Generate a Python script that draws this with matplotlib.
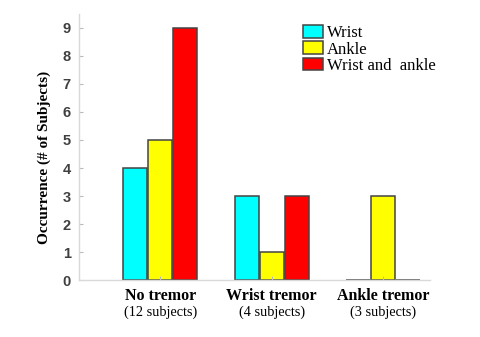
import numpy as np
import matplotlib
matplotlib.use("Agg")
import matplotlib.pyplot as plt

groups = ["No tremor", "Wrist tremor", "Ankle tremor"]
subjects = ["(12 subjects)", "(4 subjects)", "(3 subjects)"]
series = ["Wrist", "Ankle", "Wrist and  ankle"]
wrist = [4, 3, 0]
ankle = [5, 1, 3]
both = [9, 3, 0]
colors = ["#00ffff", "#ffff00", "#ff0000"]

fig = plt.figure(figsize=(4.8, 3.37), dpi=100)
ax = fig.add_axes([0.1646, 0.1691, 0.7312, 0.7894])

x = np.arange(1, len(groups) + 1)
width = 0.215
step = 0.224
for i, (vals, col, name) in enumerate(zip([wrist, ankle, both], colors, series)):
    ax.bar(x + (i - 1) * step, vals, width, color=col, edgecolor="#444444",
           linewidth=1.1, label=name)

ax.set_xlim(0.27, 3.42)
ax.set_ylim(0, 9.5)
ax.set_yticks(range(0, 10))
ax.set_xticks(x)
ax.set_xticklabels([""] * len(groups))

for lbl in ax.get_yticklabels():
    lbl.set_fontfamily("Liberation Sans")
    lbl.set_fontweight("bold")
    lbl.set_fontsize(10.5)
    lbl.set_color("#404040")

ax.tick_params(axis="both", direction="in", length=3, color="#bbbbbb", pad=6)
for s in ["top", "right"]:
    ax.spines[s].set_visible(False)
for s in ["left", "bottom"]:
    ax.spines[s].set_color("#d9d9d9")
    ax.spines[s].set_linewidth(1.0)

trans = ax.get_xaxis_transform()
for xi, g, sub in zip(x, groups, subjects):
    ax.text(xi, -0.06, g, transform=trans, ha="center", va="center",
            family="Liberation Serif", fontweight="bold", fontsize=11.5)
    ax.text(xi, -0.12, sub, transform=trans, ha="center", va="center",
            family="Liberation Serif", fontsize=10.3)

ax.set_ylabel("Occurrence (# of Subjects)", family="Liberation Serif",
              fontweight="bold", fontsize=11)
ax.yaxis.set_label_coords(-0.08, 0.46)

leg = ax.legend(loc="upper left", bbox_to_anchor=(0.61, 0.995), frameon=False,
                prop={"family": "Liberation Serif", "size": 12},
                handlelength=1.2, handleheight=0.8, handletextpad=0.25,
                labelspacing=0.0, borderaxespad=0.2)

fig.savefig("out.png", dpi=100)
